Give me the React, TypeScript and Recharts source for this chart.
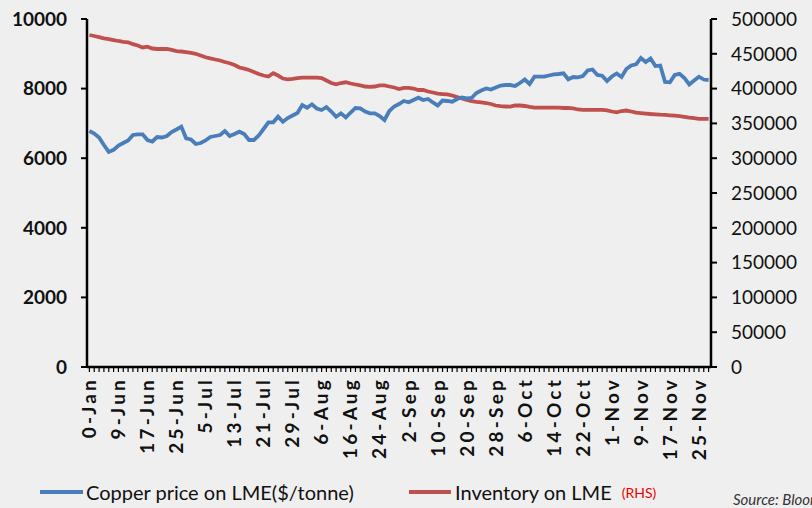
import React from "react";
import { Line, LineChart, XAxis, YAxis } from "recharts";

// every 6th trading day carries a date label
const tickLabels = [
  "0-Jan", "9-Jun", "17-Jun", "25-Jun", "5-Jul", "13-Jul", "21-Jul", "29-Jul",
  "6-Aug", "16-Aug", "24-Aug", "2-Sep", "10-Sep", "20-Sep", "28-Sep", "6-Oct",
  "14-Oct", "22-Oct", "1-Nov", "9-Nov", "17-Nov", "25-Nov",
];
const labelStep = 6;

const copperPrice = [
  6780, 6710, 6595, 6380, 6180, 6240, 6365, 6437, 6509, 6667,
  6687, 6687, 6523, 6480, 6609, 6595, 6638, 6753, 6825, 6905,
  6572, 6537, 6408, 6437, 6509, 6609, 6638, 6667, 6782, 6638,
  6695, 6761, 6695, 6523, 6523, 6652, 6839, 7032, 7032, 7193,
  7049, 7155, 7227, 7299, 7529, 7451, 7549, 7428, 7385, 7471,
  7342, 7193, 7290, 7170, 7313, 7443, 7434, 7342, 7290, 7290,
  7213, 7098, 7356, 7486, 7557, 7644, 7606, 7672, 7739, 7672,
  7701, 7601, 7514, 7658, 7644, 7624, 7701, 7744, 7716, 7730,
  7874, 7945, 8003, 7974, 8032, 8089, 8103, 8103, 8075, 8161,
  8261, 8132, 8342, 8342, 8342, 8376, 8411, 8420, 8440, 8267,
  8333, 8325, 8362, 8520, 8549, 8391, 8371, 8218, 8348, 8434,
  8333, 8563, 8664, 8698, 8879, 8764, 8865, 8649, 8664, 8190,
  8181, 8391, 8425, 8305, 8118, 8233, 8342, 8261, 8247,
];

const lmeInventory = [
  477000, 475600, 473900, 472300, 471000, 469800, 468400, 467200, 466500, 463800,
  461900, 459100, 460200, 457600, 456900, 456900, 456900, 455500, 454000, 453300,
  452300, 451200, 450000, 447600, 445000, 443300, 441800, 440400, 438200, 436500,
  433900, 430300, 428600, 426700, 423900, 421000, 418800, 417400, 422000, 418800,
  414500, 413400, 414100, 415200, 415700, 415700, 415700, 415700, 415200, 411600,
  408000, 406200, 408000, 409100, 407300, 405900, 404500, 403000, 402600, 403000,
  404500, 404500, 403000, 401600, 399400, 400900, 400900, 400100, 398000, 398000,
  395800, 394400, 392700, 392200, 391800, 390100, 387900, 385800, 383600, 381900,
  381000, 380300, 379300, 377900, 375700, 374700, 374300, 374000, 375700, 375700,
  375000, 373600, 372600, 372600, 372600, 372600, 372600, 372600, 372100, 372100,
  371700, 370000, 369300, 369300, 369300, 369300, 369300, 368800, 367100, 365900,
  367800, 368500, 367100, 365400, 364700, 364100, 363500, 363100, 362500, 362100,
  361600, 361100, 360300, 359500, 358300, 357500, 356600, 356400, 356400,
];

const priceTicks = [0, 2000, 4000, 6000, 8000, 10000];
const inventoryTicks = [0, 50000, 100000, 150000, 200000, 250000, 300000, 350000, 400000, 450000, 500000];

const rows = copperPrice.map((price, i) => ({
  idx: i,
  copper: price,
  inventory: lmeInventory[i],
}));

const FONT = "Lato, 'Open Sans', sans-serif";
const BLUE = "#4a7ebb";
const RED = "#c0504d";

function DateTick(props: any) {
  const { x, y, payload } = props;
  const i = payload.value as number;
  if (i % labelStep !== 0) return null;
  const label = tickLabels[i / labelStep];
  return (
    <text
      x={x}
      y={y}
      transform={`rotate(-90 ${x} ${y})`}
      textAnchor="end"
      dy="0.36em"
      fontFamily={FONT}
      fontWeight={700}
      fontSize={19}
      letterSpacing={3.2}
      fill="#111"
    >
      {label}
    </text>
  );
}

export default function App() {
  return (
    <div
      style={{
        position: "relative",
        width: 812,
        height: 508,
        background: "#efefef",
        overflow: "hidden",
        fontFamily: FONT,
      }}
    >
      <style>{"body{margin:0}"}</style>
      <LineChart
        width={812}
        height={508}
        data={rows}
        margin={{ top: 19, right: 0, left: 0, bottom: 0 }}
      >
        <XAxis
          dataKey="idx"
          type="category"
          interval={0}
          height={141}
          padding={{ left: 2.4, right: 2.4 }}
          axisLine={{ stroke: "#000", strokeWidth: 2.5 }}
          tickLine={{ stroke: "#000", strokeWidth: 1.2 }}
          tickSize={5}
          tickMargin={5}
          tick={<DateTick />}
        />
        <YAxis
          yAxisId="left"
          orientation="left"
          width={87}
          domain={[0, 10000]}
          ticks={priceTicks}
          interval={0}
          axisLine={{ stroke: "#000", strokeWidth: 2.5 }}
          tickLine={{ stroke: "#000", strokeWidth: 2 }}
          tickSize={6}
          tickMargin={14}
          tick={{ fill: "#111", fontSize: 19, fontWeight: 700, fontFamily: FONT }}
        />
        <YAxis
          yAxisId="right"
          orientation="right"
          width={101}
          domain={[0, 500000]}
          ticks={inventoryTicks}
          interval={0}
          axisLine={{ stroke: "#000", strokeWidth: 2.5 }}
          tickLine={{ stroke: "#000", strokeWidth: 2 }}
          tickSize={6}
          tickMargin={14}
          tick={{ fill: "#111", fontSize: 19, fontFamily: FONT, textAnchor: "start" }}
        />
        <Line
          yAxisId="right"
          type="linear"
          dataKey="inventory"
          stroke={RED}
          strokeWidth={3.8}
          dot={false}
          isAnimationActive={false}
        />
        <Line
          yAxisId="left"
          type="linear"
          dataKey="copper"
          stroke={BLUE}
          strokeWidth={3.8}
          dot={false}
          isAnimationActive={false}
        />
      </LineChart>

      <div style={{ position: "absolute", left: 40, top: 480, display: "flex", alignItems: "center", fontSize: 20, color: "#111" }}>
        <span style={{ display: "inline-block", width: 43, height: 4, background: BLUE, marginRight: 3 }} />
        <span>Copper price on LME($/tonne)</span>
      </div>
      <div style={{ position: "absolute", left: 409, top: 480, display: "flex", alignItems: "center", fontSize: 20, color: "#111" }}>
        <span style={{ display: "inline-block", width: 42, height: 4, background: RED, marginRight: 4 }} />
        <span>Inventory on LME</span>
        <span style={{ color: "#e00", fontSize: 14, marginLeft: 10 }}>(RHS)</span>
      </div>
      <div style={{ position: "absolute", left: 733, top: 490, fontSize: 15, fontStyle: "italic", color: "#333", whiteSpace: "nowrap" }}>
        Source: Bloomberg
      </div>
    </div>
  );
}
